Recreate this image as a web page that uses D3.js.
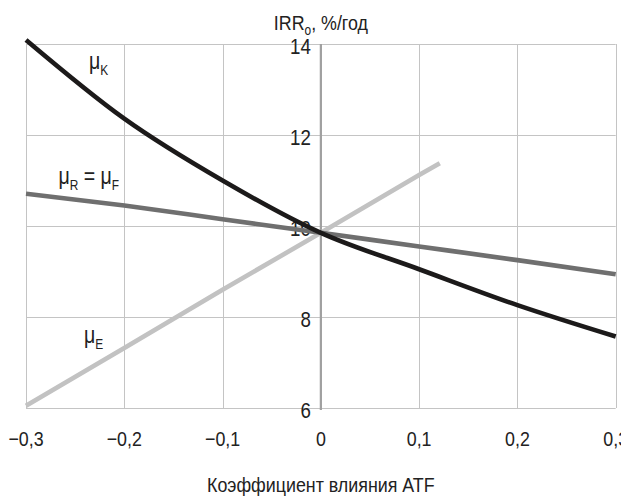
<!DOCTYPE html>
<html lang="ru">
<head>
  <meta charset="utf-8">
  <title>IRR vs ATF</title>
  <style>
    html,body{margin:0;background:#fff}
    svg{display:block}
    text{font-family:"Liberation Sans Narrow","Liberation Sans",sans-serif;fill:#222}
    .grid line{stroke:#c4c4c4;stroke-width:1}
    .zero{stroke:#a0a0a0;stroke-width:2.2}
    .series{fill:none;stroke-width:4.6;stroke-linecap:butt}
  </style>
  <script src="https://d3js.org/d3.v7.min.js"></script>
</head>
<body>
<svg width="621" height="497"></svg>
<script>
  // data
  const xTicks=[-0.3,-0.2,-0.1,0,0.1,0.2,0.3];
  const xTickLabels=['−0,3','−0,2','−0,1','0','0,1','0,2','0,3'];
  const yTicks=[6,8,10,12,14];
  const yTickLabels=['6','8','10','12','14'];

  const muKx=[-0.3,-0.2,-0.1,0,0.1,0.2,0.3];
  const muKy=[14.09,12.36,11.0,9.85,9.05,8.26,7.57];
  const muRFx=[-0.3,-0.2,-0.1,0,0.1,0.2,0.3];
  const muRFy=[10.71,10.45,10.15,9.85,9.55,9.25,8.94];
  const muEx=[-0.3,-0.2,-0.1,0,0.1,0.121];
  const muEy=[6.05,7.32,8.6,9.85,11.12,11.38];

  const seriesColors=['#1c1a1a','#6f6f6f','#c2c2c2'];

  const svg=d3.select('svg');
  const x=d3.scaleLinear().domain([-0.3,0.3]).range([26,615.7]);
  const y=d3.scaleLinear().domain([6,14]).range([408,44]);
  const SX=0.85; // narrow the font horizontally

  // text squeezed horizontally around its anchor point
  function ctext(px,py,size,anchor){
    return svg.append('g').attr('transform',`translate(${px},${py}) scale(${SX},1)`)
      .append('text').attr('font-size',size).attr('text-anchor',anchor||'start');
  }

  // grid
  const g=svg.append('g').attr('class','grid');
  g.selectAll('.v').data(xTicks).enter().append('line')
    .attr('x1',d=>Math.round(x(d))+.5).attr('x2',d=>Math.round(x(d))+.5)
    .attr('y1',y(14)).attr('y2',y(6));
  g.selectAll('.h').data(yTicks).enter().append('line')
    .attr('y1',d=>Math.round(y(d))+.5).attr('y2',d=>Math.round(y(d))+.5)
    .attr('x1',x(-0.3)).attr('x2',x(0.3));
  svg.append('line').attr('class','zero')
    .attr('x1',x(0)).attr('x2',x(0)).attr('y1',y(14)).attr('y2',y(6)+2);

  // tick labels
  yTicks.forEach((v,i)=>ctext(x(0)-10,y(v)+10,22,'end').text(yTickLabels[i]));
  xTicks.forEach((v,i)=>ctext(x(v),446,21,'middle').text(xTickLabels[i]));

  // lines
  const lineK=d3.line().x(d=>x(d[0])).y(d=>y(d[1])).curve(d3.curveMonotoneX);
  const lineL=d3.line().x(d=>x(d[0])).y(d=>y(d[1]));
  svg.append('path').attr('class','series').attr('stroke',seriesColors[2]).attr('d',lineL(d3.zip(muEx,muEy)));
  svg.append('path').attr('class','series').attr('stroke',seriesColors[1]).attr('d',lineK(d3.zip(muRFx,muRFy)));
  svg.append('path').attr('class','series').attr('stroke',seriesColors[0]).attr('d',lineK(d3.zip(muKx,muKy)));

  // series labels
  function mu(t,sub){
    t.append('tspan').text('μ');
    t.append('tspan').attr('font-size',14).attr('dy',6).text(sub);
  }
  mu(ctext(x(-0.236),y(13.45),23),'K');
  let t=ctext(x(-0.267),y(10.92),23);
  mu(t,'R');
  t.append('tspan').attr('dy',-6).text(' = μ');
  t.append('tspan').attr('font-size',14).attr('dy',6).text('F');
  mu(ctext(x(-0.241),y(7.43),23),'E');

  // axis titles
  const tt=ctext(x(0),30,21,'middle');
  tt.append('tspan').text('IRR');
  tt.append('tspan').attr('font-size',14).attr('dy',5).text('o');
  tt.append('tspan').attr('dy',-5).text(', %/год');
  ctext(x(0),492,21,'middle').text('Коэффициент влияния ATF');
</script>
</body>
</html>
